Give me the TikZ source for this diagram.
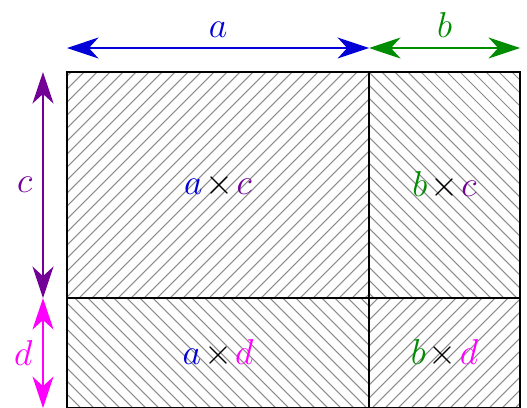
\documentclass[tikz,border=0pt]{standalone}
\usepackage{xcolor}
\usepackage{amsmath}
\usepackage{tikz}
\usetikzlibrary{arrows.meta,positioning}
\definecolor{lenblue}{RGB}{0,0,215}
\definecolor{lengreen}{RGB}{0,140,0}
\definecolor{lenpurple}{RGB}{115,0,150}
\definecolor{lenmagenta}{RGB}{255,0,255}

\begin{document}
\begin{tikzpicture}[
  x=0.3333pt,y=-0.3333pt,
  area/.style={draw=black,line width=0.9pt,outer sep=0pt,inner sep=0pt},
  hatch/.style={line width=0.35pt,color=black!45},
  dimarr/.style={>={Stealth[length=10.5pt,width=7pt,inset=3.2pt]},<->,line width=0.45pt},
  dimlbl/.style={font=\fontsize{12}{14}\selectfont}
]
  \useasboundingbox (0,0) rectangle (527,407);

  % Areas
  \node[area,minimum width=100.67pt,minimum height=75.33pt,anchor=north west]
    (ac) at (67,72) {};
  \node[area,minimum width=50.33pt,minimum height=75.33pt,right=0pt of ac] (bc) {};
  \node[area,minimum width=100.67pt,minimum height=36.67pt,below=0pt of ac] (ad) {};
  \node[area,minimum width=50.33pt,minimum height=36.67pt,below=0pt of bc] (bd) {};

  % Hatching
  \begin{scope}
    \clip (ac.north west) rectangle (ac.south east);
    \foreach \k in {0,13,...,1000} \draw[hatch] (\k,0) -- (\k-600,600);
  \end{scope}
  \begin{scope}
    \clip (bd.north west) rectangle (bd.south east);
    \foreach \k in {0,13,...,1000} \draw[hatch] (\k,0) -- (\k-600,600);
  \end{scope}
  \begin{scope}
    \clip (bc.north west) rectangle (bc.south east);
    \foreach \k in {-600,-587,...,600} \draw[hatch] (\k,0) -- (\k+600,600);
  \end{scope}
  \begin{scope}
    \clip (ad.north west) rectangle (ad.south east);
    \foreach \k in {-600,-587,...,600} \draw[hatch] (\k,0) -- (\k+600,600);
  \end{scope}

  % Borders and products
  \foreach \n in {ac,bc,ad,bd} \draw[line width=0.9pt] (\n.north west) rectangle (\n.south east);
  \node[dimlbl] (acT) at (ac) {$\medmuskip=1.5mu\textcolor{lenblue}{a}\times\textcolor{lenpurple}{c}$};
  \node[dimlbl] (bcT) at (bc) {$\medmuskip=1.5mu\textcolor{lengreen}{b}\times\textcolor{lenpurple}{c}$};
  \node[dimlbl] (adT) at (ad) {$\medmuskip=1.5mu\textcolor{lenblue}{a}\times\textcolor{lenmagenta}{d}$};
  \node[dimlbl] (bdT) at (bd) {$\medmuskip=1.5mu\textcolor{lengreen}{b}\times\textcolor{lenmagenta}{d}$};

  % Dimension ends
  \coordinate (aL) at ([yshift=8pt]ac.north west);
  \coordinate (aR) at ([yshift=8pt]ac.north east);
  \coordinate (bR) at ([yshift=8pt]bc.north east);
  \coordinate (cT) at ([xshift=-8pt]ac.north west);
  \coordinate (cB) at ([xshift=-8pt]ac.south west);
  \coordinate (dB) at ([xshift=-8pt]ad.south west);

  % Dimensions
  \draw[dimarr,lenblue] (aL) -- (aR) node[midway,above,dimlbl] {$a$};
  \draw[dimarr,lengreen] (aR) -- (bR) node[midway,above,dimlbl] {$b$};
  \draw[dimarr,lenpurple] (cT) -- (cB) node[midway,left,dimlbl] {$c$};
  \draw[dimarr,lenmagenta] (cB) -- (dB) node[midway,left,dimlbl] {$d$};
\end{tikzpicture}
\end{document}
